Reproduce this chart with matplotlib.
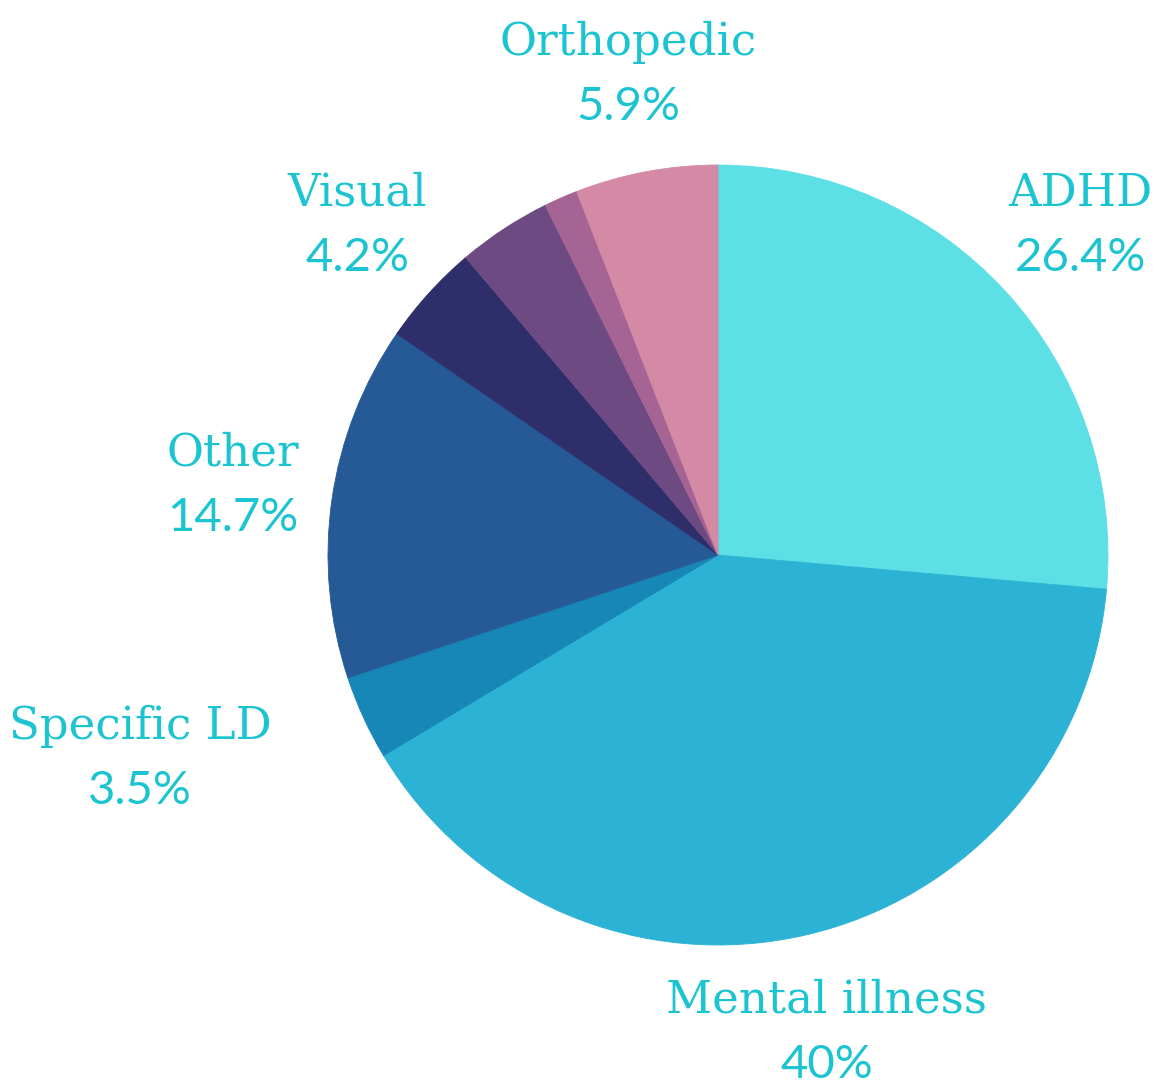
import matplotlib
matplotlib.use("Agg")
import matplotlib.pyplot as plt

categories = ["ADHD", "Mental illness", "Specific LD", "Other", "Visual", "", "", "Orthopedic"]
values = [26.4, 40.0, 3.5, 14.7, 4.2, 3.9, 1.4, 5.9]
pct_labels = ["26.4%", "40%", "3.5%", "14.7%", "4.2%", "", "", "5.9%"]
colors = ["#5CE0E6", "#2CB2D4", "#1787B8", "#265A97", "#2E2E6B", "#6E4A82", "#A66494", "#D489A5"]

W, H = 1156, 1085
fig = plt.figure(figsize=(W / 100, H / 100), dpi=100)
ax = fig.add_axes([0, 0, 1, 1])
ax.set_xlim(0, W)
ax.set_ylim(0, H)
ax.set_aspect("equal")
ax.axis("off")

cx, cy, r = 718, H - 555, 390
ax.pie(values, colors=colors, startangle=90, counterclock=False,
       center=(cx, cy), radius=r, frame=True,
       wedgeprops=dict(linewidth=0.6))
for w, c in zip(ax.patches, colors):
    w.set_edgecolor(c)
ax.set_xlim(0, W)
ax.set_ylim(0, H)
ax.axis("off")

text_color = "#1BC4D0"
label_pos = {
    "ADHD": (1080, 193),
    "Mental illness": (827, 1000),
    "Specific LD": (140, 726),
    "Other": (233, 453),
    "Visual": (357, 193),
    "Orthopedic": (628, 42),
}
for cat, pct in zip(categories, pct_labels):
    if not cat:
        continue
    px, py = label_pos[cat]
    ax.text(px, H - py, cat, ha="center", va="center", color=text_color,
            fontsize=32.5, family="DejaVu Serif")
    ax.text(px, H - py - 65, pct, ha="center", va="center", color=text_color,
            fontsize=34, family="Lato")

fig.savefig("out.png", dpi=100, facecolor="white")
